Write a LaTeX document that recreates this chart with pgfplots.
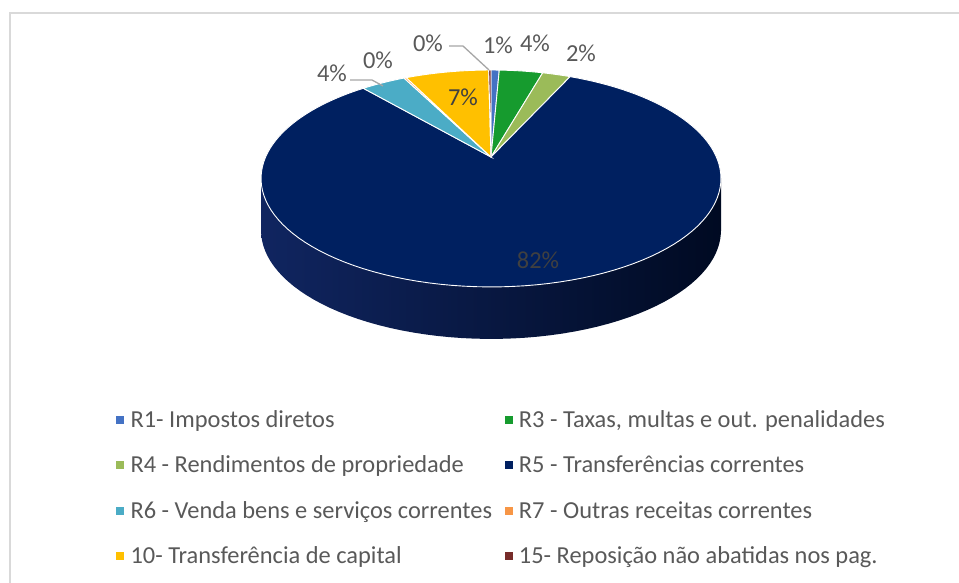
\documentclass[border=0pt]{standalone}
\usepackage{pgfplots}
\pgfplotsset{compat=1.18}
\usepackage{pgfplotstable}
\usepackage{fontspec}
\setmainfont{Carlito}

\definecolor{c0}{HTML}{4472C4}
\definecolor{c1}{HTML}{169B2E}
\definecolor{c2}{HTML}{9BBB59}
\definecolor{c3}{HTML}{002060}
\definecolor{c4}{HTML}{4BACC6}
\definecolor{c5}{HTML}{F79646}
\definecolor{c6}{HTML}{FFC000}
\definecolor{c7}{HTML}{772C2A}
\definecolor{wallL}{HTML}{102560}
\definecolor{wallM}{HTML}{031A48}
\definecolor{wallR}{HTML}{000A22}
\definecolor{labgray}{HTML}{595959}
\definecolor{labdark}{HTML}{404040}
\definecolor{leader}{HTML}{A6A6A6}
\definecolor{frame}{HTML}{D9D9D9}

% share of each revenue group (percent)
\pgfplotstableread{
name value
R1 0.7
R3 3.7
R4 2.4
R5 81.9
R6 3.8
R7 0.2
R10 7.1
R15 0.2
}\pietable

% start / end angles of each slice, clockwise from 12 o'clock
\def\pcum{0}
\foreach \i in {0,...,7}{%
  \pgfplotstablegetelem{\i}{value}\of\pietable
  \pgfmathsetmacro\tmpS{90-3.6*\pcum}%
  \pgfmathsetmacro\tmpC{\pcum+\pgfplotsretval}%
  \pgfmathsetmacro\tmpE{90-3.6*\tmpC}%
  \global\expandafter\let\csname angS\i\endcsname\tmpS
  \global\expandafter\let\csname angE\i\endcsname\tmpE
  \global\let\pcum\tmpC
}
\newcommand\angS[1]{\csname angS#1\endcsname}
\newcommand\angE[1]{\csname angE#1\endcsname}

% perspective projection of the disc (apex at 491,157)
\newcommand\px[1]{491+225.4*cos(#1)/(1+0.198*sin(#1))}
\newcommand\py[2]{#2-104.2*sin(#1)/(1+0.198*sin(#1))}

\newcommand\lgimg[1]{\addlegendimage{legend image code/.code={\fill[#1] (0bp,-1.5bp) rectangle (7bp,5.5bp);}}}

\begin{document}
\fontsize{24.5pt}{28pt}\selectfont
\begin{tikzpicture}
\path[use as bounding box] (0,0) rectangle (959bp,583bp);
\begin{axis}[
  at={(0,0)}, anchor=south west,
  scale only axis, width=959bp, height=583bp,
  xmin=0, xmax=959, ymin=0, ymax=583, y dir=reverse,
  hide axis,
  legend columns=2,
  legend cell align=left,
  legend style={draw=none, fill=none, at={(axis cs:113,409)}, anchor=north west,
    font=\fontsize{24.5pt}{28pt}\selectfont, text=labgray,
    nodes={text height=16bp, text depth=5bp, inner ysep=0pt, inner xsep=2bp},
    row sep=24.5bp,
    /tikz/every odd column/.append style={column sep=5bp},
    /tikz/every even column/.append style={column sep=4bp}},
]
% frame
\addplot[color=frame, line width=2bp, forget plot] coordinates {(10,583) (10,13) (959,13)};

% side wall
\addplot[draw=none, left color=wallL, middle color=wallM, right color=wallR, domain=0:360, samples=140, variable=\t, forget plot]
  ({\px{\t}}, {\py{\t}{209}});
\addplot[draw=none, left color=wallL, middle color=wallM, right color=wallR, forget plot]
  coordinates {(261,178.5) (721,178.5) (721,230.5) (261,230.5)} -- cycle;

% top face slices
\pgfplotsinvokeforeach{0,...,7}{
  \addplot[fill=c#1, draw=white, line width=0.9bp, domain=\angE{#1}:\angS{#1}, samples=120, variable=\t, forget plot]
    ({\px{\t}}, {\py{\t}{157}}) -- (axis cs:491,157) -- cycle;
}

% leader lines
\addplot[color=leader, line width=1.3bp, forget plot] coordinates {(449,46) (463,46) (489,70)};
\addplot[color=leader, line width=1.3bp, forget plot] coordinates {(350,80) (372,80) (383,86)};

% data labels
\node[text=labgray] at (axis cs:428,43) {0\%};
\node[text=labgray] at (axis cs:498,45) {1\%};
\node[text=labgray] at (axis cs:535,43) {4\%};
\node[text=labgray] at (axis cs:581,53) {2\%};
\node[text=labdark] at (axis cs:463,97) {7\%};
\node[text=labdark] at (axis cs:538,260) {82\%};
\node[text=labgray] at (axis cs:332,73) {4\%};
\node[text=labgray] at (axis cs:378,60) {0\%};

% legend
\lgimg{c0}\addlegendentry{\makebox[368bp][l]{R1- Impostos diretos}}
\lgimg{c1}\addlegendentry{R3 - Taxas, multas e out. penalidades}
\lgimg{c2}\addlegendentry{\makebox[368bp][l]{R4 - Rendimentos de propriedade}}
\lgimg{c3}\addlegendentry{R5 - Transferências correntes}
\lgimg{c4}\addlegendentry{\makebox[368bp][l]{R6 - Venda bens e serviços correntes}}
\lgimg{c5}\addlegendentry{R7 - Outras receitas correntes}
\lgimg{c6}\addlegendentry{\makebox[368bp][l]{10- Transferência de capital}}
\lgimg{c7}\addlegendentry{15- Reposição não abatidas nos pag.}
\end{axis}
\end{tikzpicture}
\end{document}
